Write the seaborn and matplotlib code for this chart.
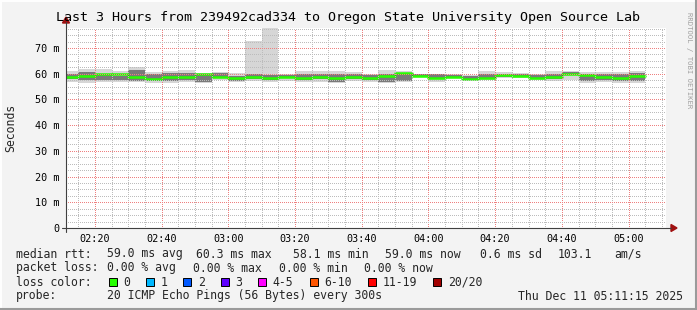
import numpy as np
import pandas as pd
import matplotlib
matplotlib.use("Agg")
import matplotlib.pyplot as plt
import seaborn as sns
from matplotlib.lines import Line2D
from matplotlib.patches import Polygon, Rectangle

# ---------------- data ----------------
title = "Last 3 Hours from 239492cad334 to Oregon State University Open Source Lab"
first_slot = "02:10"          # start of first 5-minute slot
slot_minutes = 5
view_start = "02:11:15"
view_end = "05:11:15"

median_ms = [58.9, 59.2, 59.8, 59.8, 58.9, 58.1, 58.7, 58.9, 59.8, 58.9,
             58.2, 58.9, 58.2, 58.9, 58.4, 58.9, 58.2, 58.7, 58.2, 59.2,
             60.2, 59.1, 58.4, 58.9, 58.1, 58.4, 59.5, 59.2, 58.2, 58.7,
             59.8, 59.4, 58.9, 58.2, 59.0]
smoke_hi = [61.2, 61.7, 61.7, 61.2, 62.7, 60.8, 61.2, 61.4, 60.4, 60.8,
            60.4, 72.9, 77.7, 60.1, 61.2, 61.2, 61.2, 60.8, 60.1, 61.4,
            61.2, 60.1, 60.1, 59.8, 59.5, 61.2, 60.6, 60.4, 59.8, 61.2,
            61.2, 60.6, 60.8, 60.6, 61.2]
smoke_lo = [56.9, 56.5, 56.9, 56.9, 56.9, 56.5, 56.5, 56.9, 56.5, 57.6,
            56.9, 57.3, 56.9, 57.3, 56.9, 56.9, 56.5, 57.3, 56.9, 56.5,
            56.9, 58.6, 56.9, 58.4, 57.6, 57.6, 58.4, 58.4, 57.6, 57.3,
            57.6, 56.5, 56.9, 56.5, 56.5]
core_hi = [60.1, 60.8, 59.5, 59.3, 61.4, 60.1, 60.4, 60.4, 59.9, 60.4,
           59.1, 60.1, 59.5, 59.5, 60.1, 60.1, 60.1, 60.1, 59.5, 60.1,
           60.4, 59.9, 59.9, 59.5, 59.1, 60.1, 60.1, 59.9, 59.5, 60.1,
           60.8, 60.1, 60.1, 59.9, 60.4]
core_lo = [57.8, 57.6, 57.6, 57.6, 57.3, 57.3, 57.3, 57.6, 56.9, 58.6,
           57.3, 58.0, 57.6, 58.2, 57.6, 57.8, 56.9, 57.8, 57.6, 56.9,
           57.3, 58.9, 57.8, 58.6, 58.0, 58.0, 58.9, 58.9, 58.0, 57.8,
           59.5, 57.3, 57.6, 57.3, 57.3]

y_ticks = [0, 10, 20, 30, 40, 50, 60, 70]
y_tick_labels = ["0", "10 m", "20 m", "30 m", "40 m", "50 m", "60 m", "70 m"]
x_tick_labels = ["02:20", "02:40", "03:00", "03:20", "03:40", "04:00", "04:20", "04:40", "05:00"]
y_max = 77.8

rtt_values = ["59.0 ms avg", "60.3 ms max", "58.1 ms min", "59.0 ms now", "0.6 ms sd", "103.1", "am/s"]
loss_values = ["0.00 % avg", "0.00 % max", "0.00 % min", "0.00 % now"]
loss_labels = ["0", "1", "2", "3", "4-5", "6-10", "11-19", "20/20"]
loss_colors = ["#26ff00", "#00b8ff", "#0059ff", "#5e00ff", "#ff00ff", "#ff5500", "#ff0000", "#a10000"]
probe_text = "20 ICMP Echo Pings (56 Bytes) every 300s"
stamp_text = "Thu Dec 11 05:11:15 2025"


def to_min(s):
    parts = [int(p) for p in s.split(":")]
    while len(parts) < 3:
        parts.append(0)
    return parts[0] * 60 + parts[1] + parts[2] / 60.0


# ---------------- style ----------------
sns.set_style("white")
plt.rcParams["font.family"] = ["DejaVu Sans Mono", "DejaVu Sans"]

W, H = 697, 310
fig = plt.figure(figsize=(W / 100, H / 100), dpi=100)
fig.patch.set_facecolor("#f3f3f3")


def fx(x):
    return x / W


def fy(y):
    return 1 - y / H


ax = fig.add_axes([fx(66), fy(228), 600 / W, 200 / H])
ax.set_facecolor("white")

n = len(median_ms)
t0 = to_min(first_slot)
edges = t0 + slot_minutes * np.arange(n + 1)


def ext(a):
    a = np.asarray(a, float)
    return np.append(a, a[-1])


ax.fill_between(edges, ext(smoke_lo), ext(smoke_hi), step="post", color="#d6d6d6", lw=0, zorder=1)
ax.fill_between(edges, ext(core_lo), ext(core_hi), step="post", color="#7a7a7a", lw=0, zorder=1.1)

# dark connector (step) line beneath the coloured median
step_df = pd.DataFrame({"t": edges, "ms": ext(median_ms)})
sns.lineplot(data=step_df, x="t", y="ms", drawstyle="steps-post", color="#202020",
             lw=0.8, ax=ax, legend=False, zorder=2)

# median segments coloured by loss (all 0 loss -> green)
rows = []
for i, m in enumerate(median_ms):
    rows.append({"t": edges[i], "ms": m, "seg": i})
    rows.append({"t": edges[i + 1], "ms": m, "seg": i})
med_df = pd.DataFrame(rows)
sns.lineplot(data=med_df, x="t", y="ms", units="seg", estimator=None, color=loss_colors[0],
             lw=1.8, ax=ax, legend=False, zorder=2.2)

ax.set_xlim(to_min(view_start), to_min(view_end))
ax.set_ylim(0, y_max)

xt = [to_min(s) for s in x_tick_labels]
ax.set_xticks(xt)
ax.set_xticklabels(x_tick_labels)
ax.set_xticks(np.arange(135, 315, 5), minor=True)
ax.set_yticks(y_ticks)
ax.set_yticklabels(y_tick_labels)
ax.set_yticks(np.arange(0, y_max, 2.5), minor=True)
ax.set_axisbelow(False)
ax.grid(which="major", color="#ee8080", ls=(0, (1, 2)), lw=0.72, antialiased=False)
ax.grid(which="minor", color="#bcbcbc", ls=(0, (1, 2)), lw=0.72, antialiased=False)
ax.tick_params(which="both", length=0)
ax.tick_params(axis="x", labelsize=7.3, pad=4, colors="#000000")
ax.tick_params(axis="y", labelsize=7.3, pad=4.5, colors="#000000")
ax.set_xlabel("")
ax.set_ylabel("")
for s in ax.spines.values():
    s.set_visible(False)

# axes lines with arrows
axis_col = "#404040"
arrow_col = "#a01010"
fig.add_artist(Line2D([fx(62), fx(671)], [fy(228), fy(228)], color=axis_col, lw=0.8))
fig.add_artist(Line2D([fx(66), fx(66)], [fy(232), fy(22)], color=axis_col, lw=0.8))
fig.add_artist(Polygon([(fx(671), fy(224.5)), (fx(671), fy(231.5)), (fx(677), fy(228))],
                       closed=True, color=arrow_col, transform=fig.transFigure))
fig.add_artist(Polygon([(fx(62.5), fy(23)), (fx(69.5), fy(23)), (fx(66), fy(17))],
                       closed=True, color=arrow_col, transform=fig.transFigure))

# frame
fig.add_artist(Line2D([0, 1], [fy(0.5), fy(0.5)], color="#ffffff", lw=1.4))
fig.add_artist(Line2D([fx(0.5), fx(0.5)], [0, 1], color="#ffffff", lw=1.4))
fig.add_artist(Line2D([0, 1], [fy(309), fy(309)], color="#9a9a9a", lw=1.5))
fig.add_artist(Line2D([fx(696), fx(696)], [0, 1], color="#9a9a9a", lw=1.5))

# texts
fig.text(0.5, fy(18), title, ha="center", va="center", fontsize=9.6, color="#000000")
fig.text(fx(11), fy(128), "Seconds", ha="center", va="center", rotation=90, fontsize=8.3)
fig.text(fx(689), fy(60), "RRDTOOL / TOBI OETIKER", ha="center", va="center", rotation=270,
         fontsize=5.2, color="#a0a0a0")

LF = 8.3
row_y = [254, 268, 282, 296]
fig.text(fx(16), fy(row_y[0]), "median rtt:", ha="left", va="center", fontsize=LF)
for txt, x in zip(rtt_values, [107, 196, 293, 385, 480, 558, 614]):
    fig.text(fx(x), fy(row_y[0]), txt, ha="left", va="center", fontsize=LF)

fig.text(fx(16), fy(row_y[1]), "packet loss:", ha="left", va="center", fontsize=LF)
for txt, x in zip(loss_values, [107, 193, 279, 364]):
    fig.text(fx(x), fy(row_y[1]), txt, ha="left", va="center", fontsize=LF)

fig.text(fx(16), fy(row_y[2]), "loss color:", ha="left", va="center", fontsize=LF)
sx = 108.5
for lab, col in zip(loss_labels, loss_colors):
    fig.add_artist(Rectangle((fx(sx), fy(285.5)), 8 / W, 8 / H, facecolor=col,
                             edgecolor="#000000", lw=0.7, transform=fig.transFigure))
    fig.text(fx(sx + 14.5), fy(row_y[2]), lab, ha="left", va="center", fontsize=LF)
    sx += 30.5 + 6.95 * len(lab)

fig.text(fx(16), fy(row_y[3]), "probe:", ha="left", va="center", fontsize=LF)
fig.text(fx(107), fy(row_y[3]), probe_text, ha="left", va="center", fontsize=LF)
fig.text(fx(683), fy(row_y[3]), stamp_text, ha="right", va="center", fontsize=LF)

fig.savefig("out.png", dpi=100, facecolor=fig.get_facecolor())
